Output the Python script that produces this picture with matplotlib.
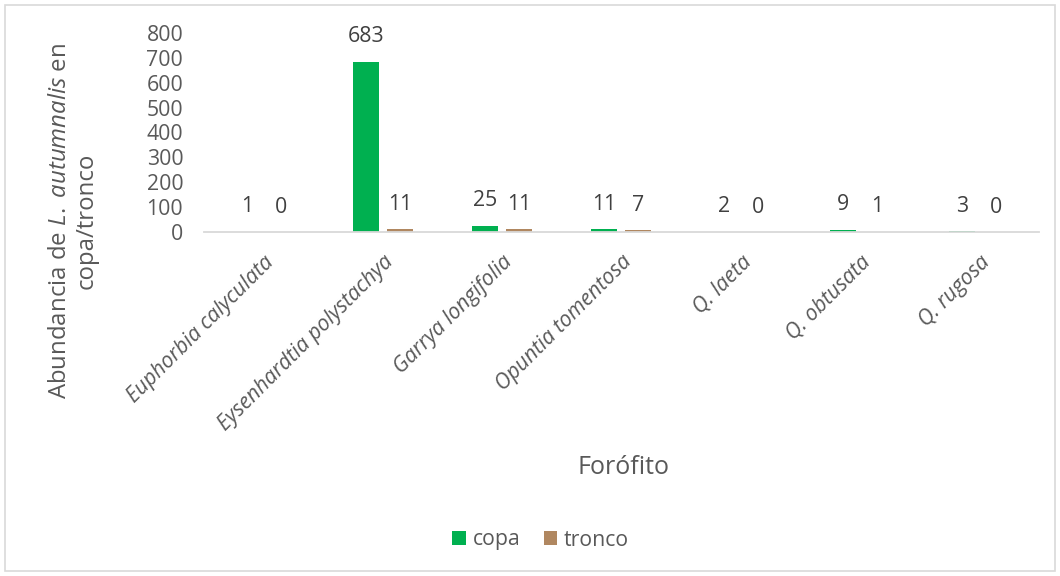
import numpy as np
import matplotlib
matplotlib.use("Agg")
import matplotlib.pyplot as plt
from matplotlib.patches import Rectangle

# fonts: Segoe-like look
plt.rcParams['font.family'] = ['Open Sans', 'DejaVu Sans']
plt.rcParams['mathtext.fontset'] = 'custom'
plt.rcParams['mathtext.it'] = 'Open Sans:italic'
plt.rcParams['mathtext.rm'] = 'Open Sans'

# data
forofitos = ['Euphorbia calyculata', 'Eysenhardtia polystachya', 'Garrya longifolia',
             'Opuntia tomentosa', 'Q. laeta', 'Q. obtusata', 'Q. rugosa']
copa = [1, 683, 25, 11, 2, 9, 3]
tronco = [0, 11, 11, 7, 0, 1, 0]

green = '#00B050'
brown = '#B08760'
txt = '#595959'
fs = 15.3

fig = plt.figure(figsize=(10.6, 5.76), dpi=100)
ax = fig.add_axes([0.1925, 0.597, 0.7875, 0.346])

x = np.arange(len(forofitos))
w = 0.218
off = 0.142
b1 = ax.bar(x - off, copa, w, color=green, label='copa')
b2 = ax.bar(x + off, tronco, w, color=brown, label='tronco')

for bars in (b1, b2):
    for r in bars:
        ax.annotate(str(int(r.get_height())),
                    (r.get_x() + r.get_width() / 2, r.get_height()),
                    xytext=(0, 18), textcoords='offset points',
                    ha='center', va='center', fontsize=fs, color='#404040')

ax.set_xlim(-0.5, len(forofitos) - 0.5)
ax.set_ylim(0, 800)
ax.set_yticks(range(0, 801, 100))
ax.tick_params(axis='y', length=0, labelsize=fs, labelcolor=txt, pad=15)
ax.tick_params(axis='x', length=0, pad=14)
ax.set_xticks(x)
ax.set_xticklabels(forofitos, rotation=45, ha='right', rotation_mode='anchor',
                   fontsize=fs, color=txt, style='italic')

for s in ['top', 'right', 'left']:
    ax.spines[s].set_visible(False)
ax.spines['bottom'].set_color('#D9D9D9')
ax.spines['bottom'].set_linewidth(1.3)

fig.text(0.069, 0.616, r'Abundancia de $\mathit{L.}$ $\mathit{autumnalis}$ en' + '\ncopa/tronco',
         rotation=90, ha='center', va='center', fontsize=17.3, color=txt,
         multialignment='center', linespacing=1.15)
fig.text(0.588, 0.1875, 'Forófito', ha='center', va='center', fontsize=18, color=txt)

fig.legend(handles=[b1, b2], loc='center', bbox_to_anchor=(0.51, 0.0625), ncol=2,
           frameon=False, fontsize=fs, labelcolor=txt, handlelength=0.65,
           handleheight=0.65, handletextpad=0.3, columnspacing=1.1)

fig.patches.append(Rectangle((0.005, 0.008), 0.99, 0.984, transform=fig.transFigure,
                             fill=False, edgecolor='#D9D9D9', linewidth=1.2))

fig.savefig('out.png', dpi=100)
